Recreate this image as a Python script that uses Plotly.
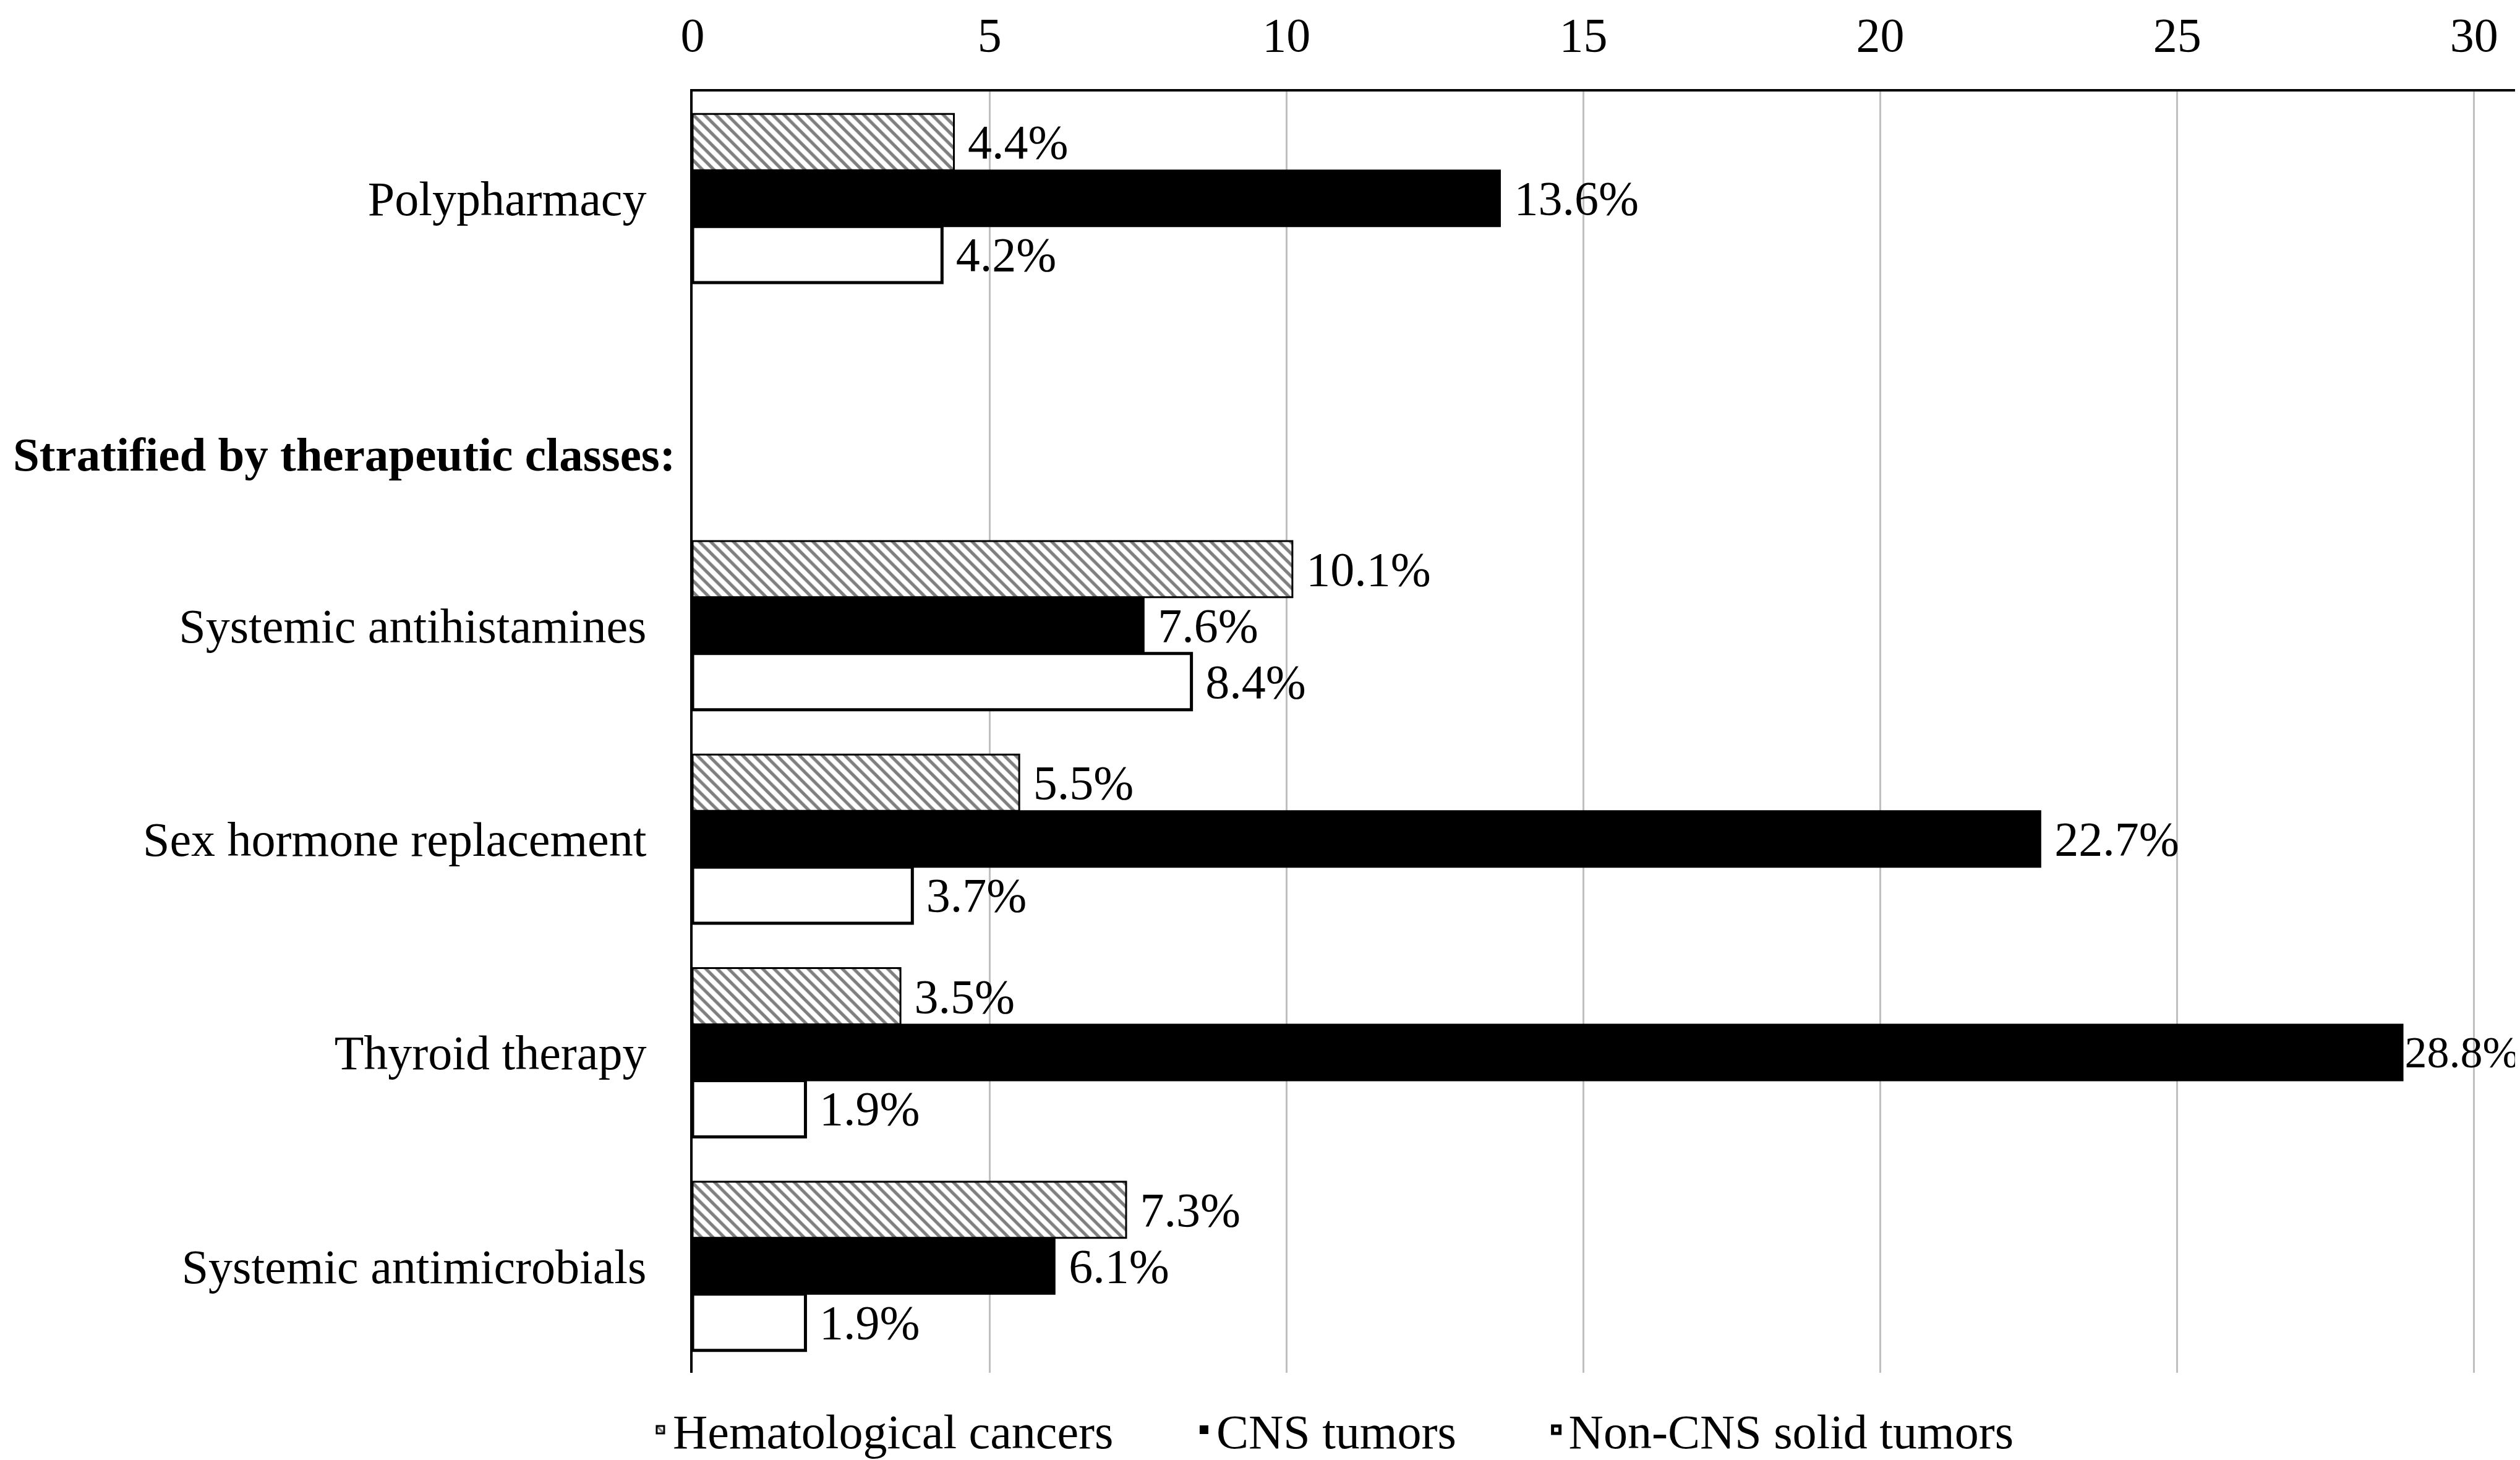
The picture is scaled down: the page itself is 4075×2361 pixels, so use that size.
import plotly.graph_objects as go

# Category rows, top to bottom (blank row holds the section header)
categories = [
    "Polypharmacy",
    " ",
    "Systemic antihistamines",
    "Sex hormone replacement",
    "Thyroid therapy",
    "Systemic antimicrobials",
]
header_text = "Stratified by therapeutic classes:"

series_names = ["Hematological cancers", "CNS tumors", "Non-CNS solid tumors"]
hematological = [4.4, None, 10.1, 5.5, 3.5, 7.3]
cns = [13.6, None, 7.6, 22.7, 28.8, 6.1]
non_cns = [4.2, None, 8.4, 3.7, 1.9, 1.9]

x_ticks = [0, 5, 10, 15, 20, 25, 30]

FONT = "Liberation Serif"
FS = 78
X_MAX = 30.7


def labels(vals):
    # a small lead space like Excel's label offset; labels near the right
    # edge get pulled in against the bar instead
    out = []
    for v in vals:
        if v is None:
            out.append("")
        elif v > 28:
            out.append(f"{v}%")
        else:
            out.append(f"\u00a0{v}%")
    return out


def label_sizes(vals):
    return [72 if (v is not None and v > 28) else FS for v in vals]


fig = go.Figure()

fig.add_trace(go.Bar(
    name=series_names[0], y=categories, x=hematological, orientation="h",
    text=labels(hematological), textposition="outside", cliponaxis=False,
    textfont=dict(family=FONT, size=label_sizes(hematological), color="black"),
    marker=dict(color="white",
                pattern=dict(shape="\\", fgcolor="black", bgcolor="white",
                             size=13, solidity=0.4),
                line=dict(color="black", width=3)),
    legend="legend",
))
fig.add_trace(go.Bar(
    name=series_names[1], y=categories, x=cns, orientation="h",
    text=labels(cns), textposition="outside", cliponaxis=False,
    textfont=dict(family=FONT, size=label_sizes(cns), color="black"),
    marker=dict(color="black", line=dict(color="black", width=2)),
    legend="legend2",
))
fig.add_trace(go.Bar(
    name=series_names[2], y=categories, x=non_cns, orientation="h",
    text=labels(non_cns), textposition="outside", cliponaxis=False,
    textfont=dict(family=FONT, size=label_sizes(non_cns), color="black"),
    marker=dict(color="white", line=dict(color="black", width=5)),
    legend="legend3",
))

fig.update_traces(constraintext="none")

# section header sits a little below the blank row's centre
fig.add_annotation(
    text="<b>" + header_text + "</b>", xref="paper", yref="y",
    x=0, y=1.2, xanchor="right", yanchor="middle", xshift=-26,
    showarrow=False, font=dict(family=FONT, size=77, color="black"),
)

legend_common = dict(orientation="h", xref="container", yref="container",
                     y=0.024, yanchor="middle", xanchor="left",
                     font=dict(family=FONT, size=FS, color="black"),
                     bgcolor="rgba(0,0,0,0)")

fig.update_layout(
    width=4075, height=2361,
    margin=dict(l=1112, r=15, t=140, b=149),
    paper_bgcolor="white", plot_bgcolor="white",
    barmode="group", bargap=0.21, bargroupgap=0,
    font=dict(family=FONT, size=FS, color="black"),
    showlegend=True,
    legend=dict(x=0.2552, **legend_common),
    legend2=dict(x=0.4709, **legend_common),
    legend3=dict(x=0.6107, **legend_common),
    xaxis=dict(
        side="top", range=[0, X_MAX], tickvals=x_ticks, automargin=False,
        showgrid=True, gridcolor="#c0c0c0", gridwidth=3,
        zeroline=False, showline=True, linecolor="black", linewidth=4,
        ticks="outside", ticklen=30, tickcolor="rgba(0,0,0,0)",
        tickfont=dict(family=FONT, size=FS, color="black"),
    ),
    yaxis=dict(
        type="category", categoryorder="array", categoryarray=categories,
        range=[5.5, -0.5], showgrid=False, zeroline=False, automargin=False,
        showline=True, linecolor="black", linewidth=4,
        ticks="outside", ticklen=55, tickcolor="rgba(0,0,0,0)",
        tickfont=dict(family=FONT, size=FS, color="black"),
    ),
)

fig.write_html("out.html")
